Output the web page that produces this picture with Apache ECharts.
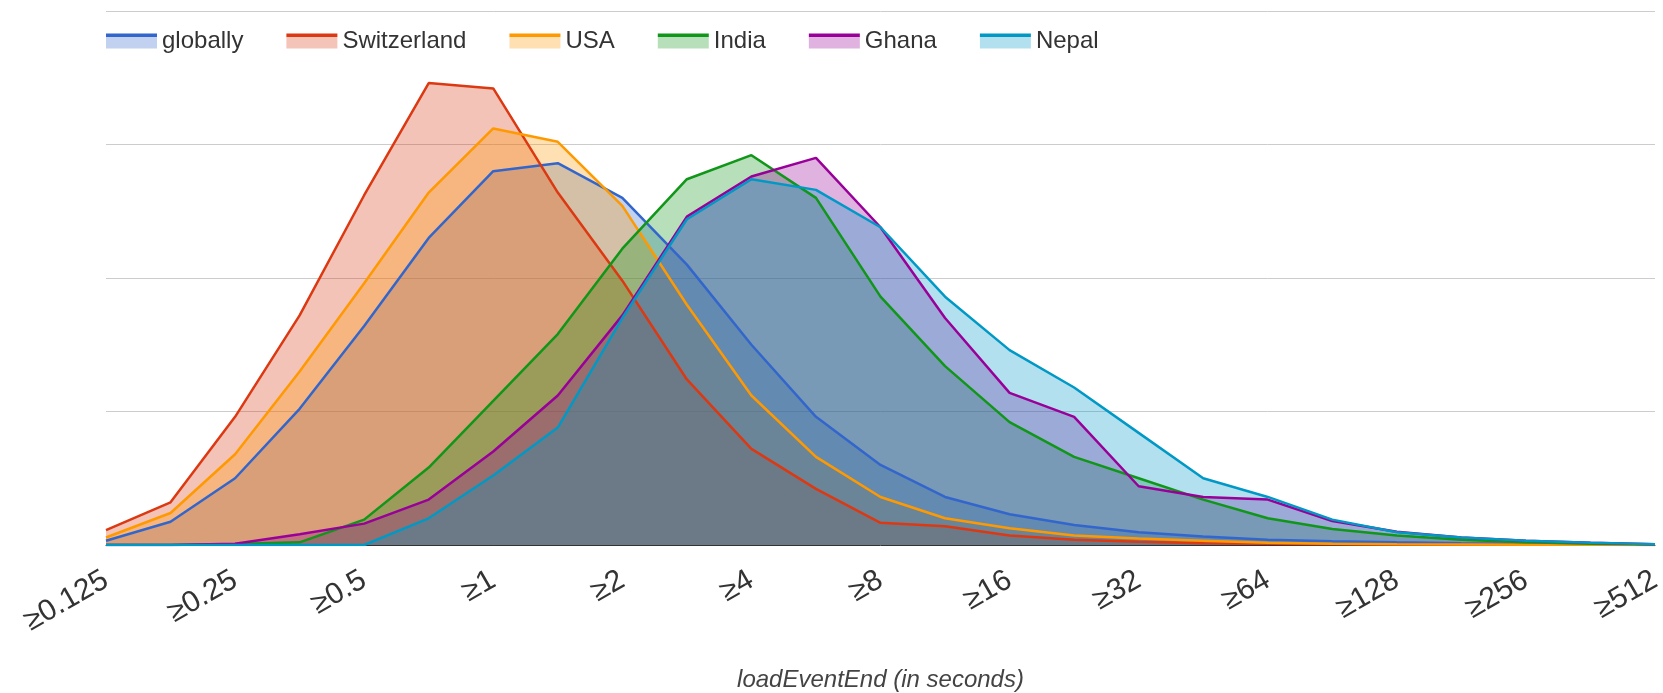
<!DOCTYPE html>
<html>
<head>
<meta charset="utf-8">
<script src="https://cdn.jsdelivr.net/npm/echarts@6/dist/echarts.min.js"></script>
<style>
  html, body {margin: 0; padding: 0; background: #fff;}
  #chart {width: 1663px; height: 693px;}
</style>
</head>
<body>
<div id="chart"></div>
<script>
const buckets = ['≥0.125','≥0.177','≥0.25','≥0.354','≥0.5','≥0.707','≥1','≥1.41','≥2','≥2.83','≥4','≥5.66','≥8',
  '≥11.3','≥16','≥22.6','≥32','≥45.3','≥64','≥90.5','≥128','≥181','≥256','≥362','≥512']

const globally    = [0.16,0.87,2.5,5.1,8.2,11.5,14.0,14.3,13.0,10.5,7.5,4.8,3.0,1.8,1.15,0.75,0.48,0.32,0.2,0.14,0.1,0.07,0.05,0.03,0.02]
const switzerland = [0.56,1.6,4.8,8.6,13.1,17.3,17.1,13.2,9.9,6.2,3.6,2.1,0.83,0.7,0.36,0.2,0.12,0.07,0.05,0.03,0.02,0.01,0.01,0.01,0]
const usa         = [0.28,1.2,3.4,6.5,9.8,13.2,15.6,15.1,12.7,9.0,5.6,3.3,1.8,1.0,0.63,0.36,0.24,0.16,0.08,0.05,0.03,0.02,0.01,0.01,0]
const india       = [0,0,0.04,0.1,0.95,2.9,5.4,7.9,11.1,13.7,14.6,13.0,9.3,6.7,4.6,3.3,2.5,1.7,1.0,0.6,0.36,0.2,0.1,0.05,0.02]
const ghana       = [0,0,0.05,0.4,0.8,1.7,3.5,5.6,8.6,12.3,13.8,14.5,11.9,8.5,5.7,4.8,2.2,1.8,1.7,0.9,0.5,0.28,0.16,0.08,0.03]
const nepal       = [0,0,0,0,0,1.0,2.6,4.4,8.5,12.2,13.7,13.3,11.9,9.3,7.3,5.9,4.2,2.5,1.8,0.95,0.48,0.28,0.16,0.08,0.03]

const names  = ['globally','Switzerland','USA','India','Ghana','Nepal']
const values = [globally, switzerland, usa, india, ghana, nepal]
const colors = ['#3366cc','#dc3912','#ff9900','#109618','#990099','#0099c6']
const lights = ['#c2d1f0','#f5c4b8','#ffe0b2','#b7e0ba','#e0b2e0','#b2e0ee']

const font = 'Liberation Sans, Arial, sans-serif'

// legend icon: dark line on top of a light swatch
function iconColor(i) {
  return new echarts.graphic.LinearGradient(0, 0, 0, 1, [
    {offset: 0, color: colors[i]},
    {offset: 0.25, color: colors[i]},
    {offset: 0.25, color: lights[i]},
    {offset: 1, color: lights[i]}
  ])
}

const chart = echarts.init(document.getElementById('chart'))
chart.setOption({
  animation: false,
  backgroundColor: '#fff',
  legend: {
    left: 101, top: 24,
    icon: 'rect',
    itemWidth: 51, itemHeight: 15, itemGap: 43,
    textStyle: {fontFamily: font, fontSize: 24, color: '#333'},
    data: names.map((n, i) => ({name: n, itemStyle: {color: iconColor(i)}}))
  },
  grid: {left: 106, right: 8, top: 11, bottom: 148, containLabel: false, outerBoundsMode: 'none'},
  xAxis: {
    type: 'category',
    data: buckets,
    boundaryGap: false,
    axisLine: {lineStyle: {color: '#333', width: 1}},
    axisTick: {show: false},
    axisLabel: {
      interval: 1, rotate: 30, margin: 33,
      fontFamily: font, fontSize: 30, color: '#333'
    },
    name: 'loadEventEnd (in seconds)',
    nameLocation: 'middle',
    nameGap: 123,
    nameTextStyle: {fontFamily: font, fontSize: 24, fontStyle: 'italic', color: '#444'}
  },
  yAxis: {
    type: 'value',
    min: 0, max: 20, interval: 5,
    axisLine: {show: false},
    axisTick: {show: false},
    axisLabel: {show: false},
    splitLine: {lineStyle: {color: '#cccccc', width: 1}}
  },
  series: names.map((n, i) => ({
    name: n,
    type: 'line',
    data: values[i],
    symbol: 'none',
    color: colors[i],
    lineStyle: {width: 2.5, color: colors[i]},
    areaStyle: {color: colors[i], opacity: 0.3}
  }))
})
</script>
</body>
</html>
